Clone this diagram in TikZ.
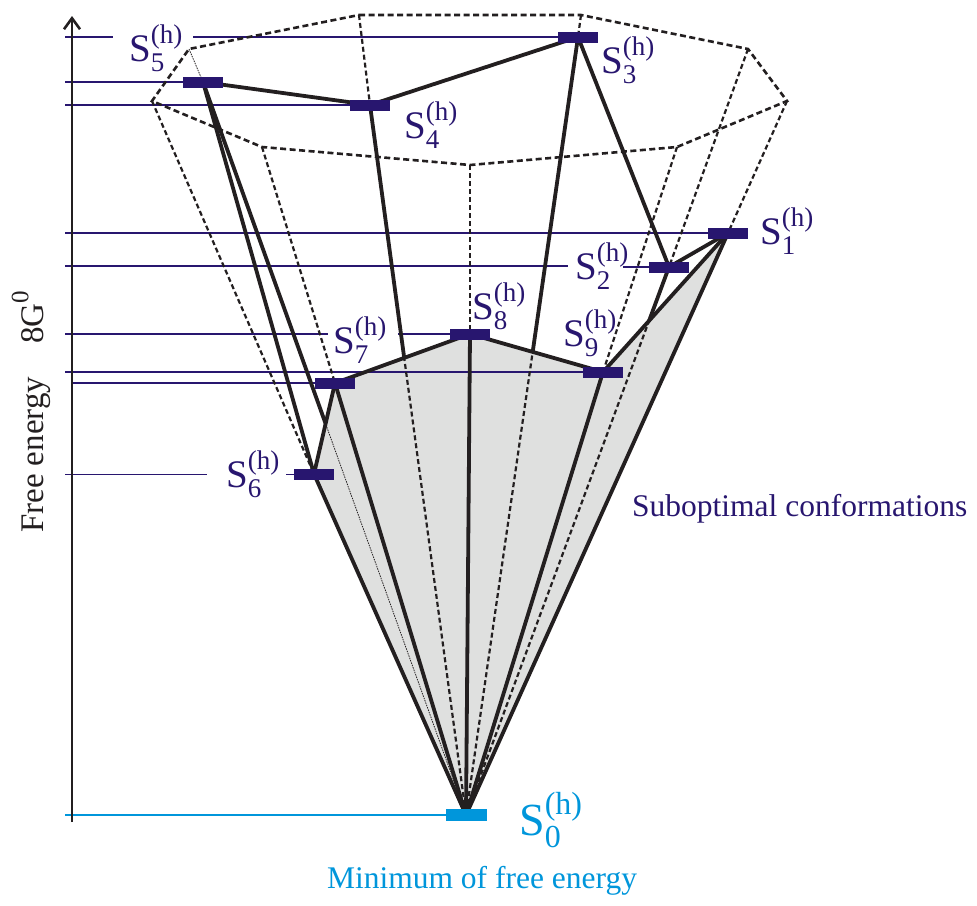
\documentclass[tikz,border=0pt]{standalone}
\usepackage{fontspec}
\setmainfont{Liberation Serif}
\usetikzlibrary{arrows.meta}
\definecolor{navy}{RGB}{40,22,111}
\definecolor{sky}{RGB}{0,150,219}
\definecolor{conegray}{RGB}{223,224,223}
\definecolor{ink}{RGB}{35,31,32}
% state label S with (h) on top and its number below
\newcommand{\conf}[2][27]{S{\fontsize{#1}{#1}\selectfont\rlap{\raisebox{0.68em}{(h)}}\raisebox{-0.37em}{#2}}}

\begin{document}
\begin{tikzpicture}[x=1pt, y=-1pt,
		bar/.style={fill=navy, minimum width=40pt, minimum height=11pt, inner sep=0pt},
		lbl/.style={text=navy, font=\fontsize{39}{42}\selectfont, inner sep=0pt, anchor=west},
		level/.style={navy, line width=1.4pt},
		rim/.style={ink, line width=2.6pt, dash pattern=on 6pt off 3.5pt},
		ray/.style={ink, line width=2.2pt, dash pattern=on 5pt off 3pt},
		hid/.style={ink, line width=0.8pt, dash pattern=on 1.5pt off 1pt},
		edge/.style={ink, line width=3.8pt, line join=round}]
		\useasboundingbox (0,0) rectangle (977,905);
		
		% states
		\coordinate (s0) at (466,815);
		\coordinate (s1) at (728,233);
		\coordinate (s2) at (669,267);
		\coordinate (s3) at (578,37);
		\coordinate (s4) at (370,105);
		\coordinate (s5) at (203,82);
		\coordinate (s6) at (314,474);
		\coordinate (s7) at (335,383);
		\coordinate (s8) at (470,334);
		\coordinate (s9) at (603,372);
		
		% rim of the cone
		\coordinate (r1) at (359,15);
		\coordinate (r2) at (581,15);
		\coordinate (r3) at (748,49);
		\coordinate (r4) at (787,101);
		\coordinate (r5) at (677,147);
		\coordinate (r6) at (470,165);
		\coordinate (r7) at (262,147);
		\coordinate (r8) at (152,101);
		\coordinate (r9) at (189,49);
		
		\fill[conegray] (s6) -- (s7) -- (s8) -- (s9) -- (s1) -- (s0) -- cycle;
		
		% energy levels
		\draw[level] (65,37) -- (113,37) (193,37) -- (s3);
		\draw[level] (65,82) -- (s5);
		\draw[level] (65,105) -- (s4);
		\draw[level] (65,233) -- (s1);
		\draw[level] (65,266) -- (568,266) (623,267) -- (s2);
		\draw[level] (65,334) -- (328,334) (398,334) -- (s8);
		\draw[level] (65,372) -- (s9);
		\draw[level] (73,383) -- (s7);
		\draw[navy, line width=0.9pt] (65,474) -- (207,474) (286,474) -- (s6);
		\draw[sky, line width=2.2pt] (65,815) -- (s0);
		
		\draw[rim] (r1) -- (r2) -- (r3) -- (r4) -- (r5) -- (r6) -- (r7) -- (r8) -- (r9) -- cycle;
		\draw[ray] (r1) -- (s4) -- (s0);
		\draw[ray] (r2) -- (s3) -- (s0);
		\draw[ray] (r3) -- (s2) -- (s0);
		\draw[ray] (r4) -- (s1);
		\draw[ray] (r5) -- (s9);
		\draw[ray] (r6) -- (s8);
		\draw[ray] (r7) -- (s7);
		\draw[ray] (r8) -- (s6);
		\draw[hid] (r9) -- (s5) -- (s0);
		
		% where the back lines meet the front face
		\coordinate (e5) at (intersection of s5--s0 and s6--s7);
		\coordinate (e4) at (intersection of s4--s0 and s7--s8);
		\coordinate (e3) at (intersection of s3--s0 and s8--s9);
		\coordinate (e2) at (intersection of s2--s0 and s9--s1);
		
		\draw[edge] (s6) -- (s5) -- (s4) -- (s3) -- (s2) -- (s1) -- (s0) -- cycle;
		\draw[edge] (s6) -- (s7) -- (s8) -- (s9) -- (s1);
		\draw[edge] (s7) -- (s0);
		\draw[edge] (s8) -- (s0);
		\draw[edge] (s9) -- (s0);
		\draw[edge] (s5) -- (e5);
		\draw[edge] (s4) -- (e4);
		\draw[edge] (s3) -- (e3);
		\draw[edge] (s2) -- (e2);
		
		\draw[ink, line width=2.6pt, -{Straight Barb[length=11pt, width=16pt]}] (72,822) -- (72,16);
		
		\node[bar] (b1) at (s1) {};
		\node[bar] (b2) at (s2) {};
		\node[bar] (b3) at (s3) {};
		\node[bar] (b4) at (s4) {};
		\node[bar] (b5) at (s5) {};
		\node[bar] (b6) at (s6) {};
		\node[bar] (b7) at (s7) {};
		\node[bar] (b8) at (s8) {};
		\node[bar] (b9) at (s9) {};
		\node[bar, fill=sky, minimum width=41pt, minimum height=12pt] (b0) at (s0) {};
		
		\node[lbl] (l1) at (760,231) {\conf{1}};
		\node[lbl] (l2) at (575,266) {\conf{2}};
		\node[lbl] (l3) at (601,60) {\conf{3}};
		\node[lbl] (l4) at (404,125) {\conf{4}};
		\node[lbl] (l5) at (129,48) {\conf{5}};
		\node[lbl] (l6) at (226,474) {\conf{6}};
		\node[lbl] (l7) at (333,340) {\conf{7}};
		\node[lbl] (l8) at (472,306) {\conf{8}};
		\node[lbl] (l9) at (563,333) {\conf{9}};
		\node[lbl, text=sky, font=\fontsize{46}{50}\selectfont] (l0) at (519,820) {\conf[32]{0}};
		
		\node[text=navy, font=\fontsize{31.5}{34}\selectfont, anchor=base west, inner sep=0pt] (subopt) at (632,516) {Suboptimal conformations};
		\node[text=sky, font=\fontsize{31.5}{34}\selectfont, anchor=base, inner sep=0pt] (minimum) at (482,888) {Minimum of free energy};
		\node[text=ink, rotate=90, font=\fontsize{33}{36}\selectfont, inner sep=0pt] (axis) at (31,412) {Free energy\hspace{1em}8G{\fontsize{25}{25}\selectfont\raisebox{0.6em}{0}}};
	\end{tikzpicture}
\end{document}
